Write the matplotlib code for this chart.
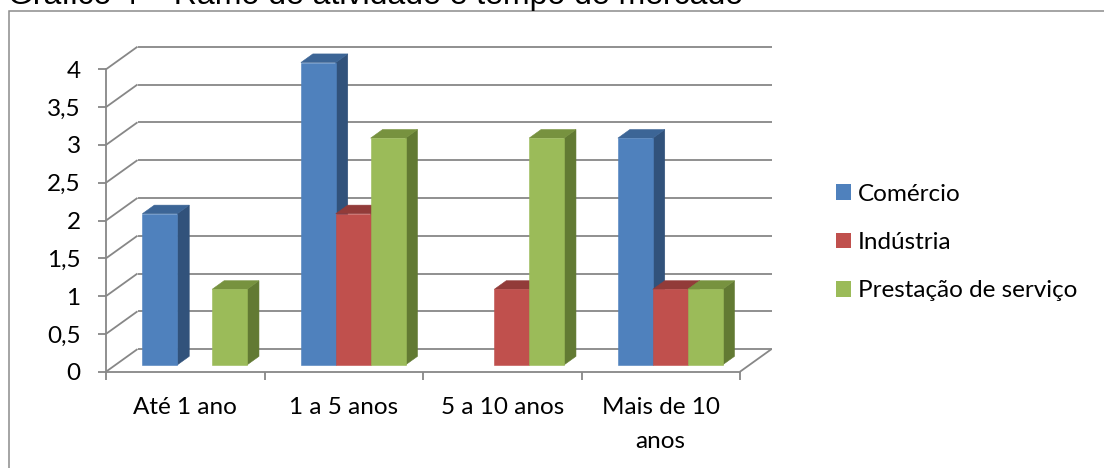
import matplotlib
matplotlib.use("Agg")
import matplotlib.pyplot as plt
from matplotlib.patches import Polygon, Patch, Rectangle
from matplotlib.font_manager import FontProperties
import matplotlib.transforms as mtransforms

# ---- data ----
categories = ["Até 1 ano", "1 a 5 anos", "5 a 10 anos", "Mais de 10\nanos"]
series_names = ["Comércio", "Indústria", "Prestação de serviço"]
comercio = [2, 4, 0, 3]
industria = [0, 2, 1, 1]
prestacao = [1, 3, 3, 1]
y_ticks = [0, 0.5, 1, 1.5, 2, 2.5, 3, 3.5, 4]
title = "Gráfico 4 – Ramo de atividade e tempo de mercado"

series_values = [comercio, industria, prestacao]

# face colours: front, top, side
front_colors = ["#4F81BD", "#C0504D", "#9BBB59"]
top_colors = ["#3C6596", "#923B39", "#77923F"]
side_colors = ["#31527B", "#7C3230", "#627A33"]
grid_color = "#878787"

W, H, DPI = 1104, 468, 100
fig = plt.figure(figsize=(W / DPI, H / DPI), dpi=DPI)
fig.patch.set_facecolor("white")
plt.rcParams["font.family"] = ["Lato", "DejaVu Sans"]
FS = 17.5

# front plane of the 3-D box, in pixels
PX0, PX1 = 106, 740
PY0, PY1 = 371.7, 69.3
ax = fig.add_axes([PX0 / W, 1 - PY0 / H, (PX1 - PX0) / W, (PY0 - PY1) / H])
n_cat = len(categories)
ax.set_xlim(0, n_cat)
ax.set_ylim(0, y_ticks[-1])
ax.set_facecolor("none")

# depth of the box expressed in data units
px_per_x = (PX1 - PX0) / n_cat
px_per_y = (PY0 - PY1) / y_ticks[-1]
DX = 31.5 / px_per_x
DY = 22.6 / px_per_y

# axis lines
for s in ["top", "right"]:
    ax.spines[s].set_visible(False)
for s in ["left", "bottom"]:
    ax.spines[s].set_color(grid_color)
    ax.spines[s].set_linewidth(1.3)

tick_len = 8 * 72 / DPI
ax.set_yticks(y_ticks, labels=[f"{t:g}".replace(".", ",") for t in y_ticks])
ax.tick_params(axis="y", direction="out", length=tick_len, width=1.3,
               color=grid_color, pad=12.5, labelsize=FS, labelcolor="black")
ax.set_xticks(range(n_cat + 1), labels=[""] * (n_cat + 1))
ax.tick_params(axis="x", direction="out", length=tick_len, width=1.3,
               color=grid_color)

# walls: side-wall diagonals and back-wall gridlines, floor edge
line_kw = dict(color=grid_color, lw=1.3, clip_on=False, zorder=1,
               solid_capstyle="butt")
for t in y_ticks:
    ax.plot([0, DX], [t, t + DY], **line_kw)
    ax.plot([DX, n_cat + DX], [t + DY, t + DY], **line_kw)
ax.plot([n_cat, n_cat + DX], [0, DY], **line_kw)

# 3-D columns
bar_w = 0.22
group_off = (1 - bar_w * len(series_values)) / 2
f_front = 0.30   # depth position of the column fronts
f_depth = 0.38   # depth of each column
z = 3
for i in range(n_cat):
    for j, vals in enumerate(series_values):
        v = vals[i]
        if v == 0:
            continue
        xl = i + group_off + j * bar_w + f_front * DX
        yb = f_front * DY
        xr = xl + bar_w
        ddx, ddy = f_depth * DX, f_depth * DY
        front = [(xl, yb), (xr, yb), (xr, yb + v), (xl, yb + v)]
        top = [(xl, yb + v), (xr, yb + v), (xr + ddx, yb + v + ddy),
               (xl + ddx, yb + v + ddy)]
        side = [(xr, yb), (xr + ddx, yb + ddy), (xr + ddx, yb + v + ddy),
                (xr, yb + v)]
        for pts, col in ((side, side_colors[j]), (top, top_colors[j]),
                         (front, front_colors[j])):
            ax.add_patch(Polygon(pts, closed=True, facecolor=col,
                                 edgecolor=col, lw=0.4, clip_on=False,
                                 zorder=z))
        z += 1

# category labels under the floor: first baseline 42 px below the floor,
# 30 px between baselines
renderer = fig.canvas.get_renderer()
lp_w, lp_h, lp_d = renderer.get_text_width_height_descent(
    "lp", FontProperties(family=["Lato", "DejaVu Sans"], size=FS), ismath=False)
lp_asc = lp_h - lp_d
lab_tr = mtransforms.offset_copy(ax.transData, fig=fig,
                                 y=-(42 - lp_asc), units="dots")
for i, cat in enumerate(categories):
    ax.text(i + 0.5, 0, cat, ha="center", va="top", fontsize=FS,
            linespacing=30 / lp_asc, transform=lab_tr)

# legend
handles = [Patch(facecolor=c, edgecolor="none") for c in front_colors]
ax.legend(handles, series_names, loc="center left",
          bbox_to_anchor=(836 / W, 1 - 242.5 / H),
          bbox_transform=fig.transFigure, frameon=False, fontsize=FS,
          handlelength=0.6, handleheight=0.6, handletextpad=0.29,
          labelspacing=1.13, borderpad=0, borderaxespad=0)

# chart frame and caption above it
fig.add_artist(Rectangle((8.5 / W, -0.2), 2.0, 1.2 - 10.5 / H,
                         transform=fig.transFigure, fill=False,
                         edgecolor="#8C8C8C", lw=1.1))
fig.text(8 / W, 1 - 4 / H, title, ha="left", va="baseline", fontsize=23,
         family=["Liberation Sans", "DejaVu Sans"], color="black")

fig.savefig("out.png", dpi=DPI, facecolor="white")
